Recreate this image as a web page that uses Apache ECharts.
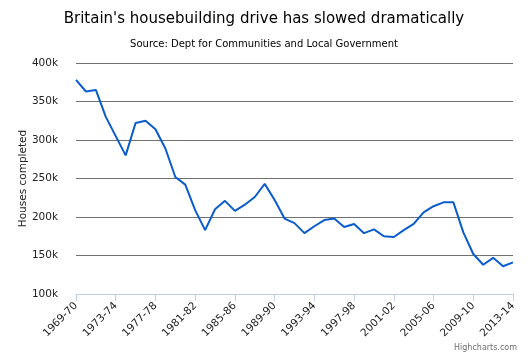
<!DOCTYPE html>
<html>
<head>
<meta charset="utf-8">
<script src="https://cdn.jsdelivr.net/npm/echarts@6/dist/echarts.min.js"></script>
<style>
  html, body { margin: 0; padding: 0; background: #fff; }
  #chart { width: 528px; height: 352px; }
</style>
</head>
<body>
<div id="chart"></div>
<script>
// financial years, 1969-70 .. 2013-14
const years = []
for (let y = 1969; y <= 2013; y++) {
  years.push(y + '-' + String((y + 1) % 100).padStart(2, '0'))
}
// houses completed
const completed = [
  378000, 363000, 365000, 330000, 305000, 280000, 322000, 325000, 314000, 289000,
  252000, 242000, 209000, 183000, 210000, 221000, 208000, 216000, 226000, 243000,
  222000, 198000, 192000, 179000, 188000, 196000, 198000, 187000, 191000, 179000,
  184000, 175000, 174000, 183000, 191000, 206000, 214000, 219000, 219000, 180000,
  152000, 138000, 147000, 136000, 141000
]
const yTicks = { min: 100000, max: 400000, step: 50000 }

const chart = echarts.init(document.getElementById('chart'))
const font = 'DejaVu Sans, sans-serif'

chart.setOption({
  animation: false,
  title: {
    text: "Britain's housebuilding drive has slowed dramatically",
    subtext: 'Source: Dept for Communities and Local Government',
    left: 'center',
    top: 7,
    itemGap: 12,
    textStyle: { fontSize: 15, fontWeight: 'normal', color: '#000', fontFamily: font },
    subtextStyle: { fontSize: 10, color: '#000', fontFamily: font }
  },
  grid: { left: 76, right: 15, top: 63, bottom: 58 },
  xAxis: {
    type: 'category',
    data: years,
    boundaryGap: false,
    axisLine: { lineStyle: { color: '#C0D0E0' } },
    axisTick: { interval: 3, length: 7, lineStyle: { color: '#C0D0E0' } },
    axisLabel: { interval: 3, rotate: 45, fontSize: 10.5, color: '#222', fontFamily: font, margin: 10 }
  },
  yAxis: {
    type: 'value',
    min: yTicks.min,
    max: yTicks.max,
    interval: yTicks.step,
    name: 'Houses completed',
    nameLocation: 'middle',
    nameRotate: 90,
    nameGap: 47,
    nameMoveOverlap: false, // v6 pushes the name past the labels otherwise
    nameTextStyle: { fontSize: 10.5, color: '#222', fontFamily: font },
    axisLine: { show: false },
    axisTick: { show: false },
    axisLabel: {
      fontSize: 10.5, color: '#222', fontFamily: font, margin: 18,
      formatter: v => (v / 1000) + 'k'
    },
    splitLine: { lineStyle: { color: '#707070' } }
  },
  series: [{
    type: 'line',
    data: completed,
    showSymbol: false,
    lineStyle: { color: '#0a5ccc', width: 2 }
  }],
  graphic: [{
    type: 'text',
    right: 11,
    bottom: 0,
    style: { text: 'Highcharts.com', fontSize: 8, fill: '#707070', fontFamily: font }
  }]
})
</script>
</body>
</html>
